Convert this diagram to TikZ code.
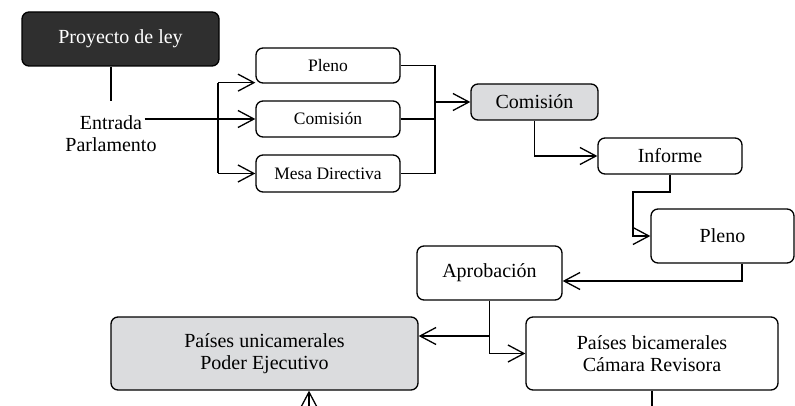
\documentclass[tikz,border=0pt]{standalone}
\usepackage{fontspec}
\setmainfont{Liberation Serif}
\usetikzlibrary{arrows.meta}
\definecolor{darkbox}{HTML}{2F2F2F}
\definecolor{graybox}{HTML}{DBDCDE}
\begin{document}
\begin{tikzpicture}[x=1pt,y=-1pt, line width=1.3pt,
  box/.style={draw, rounded corners=7pt, inner sep=0pt, align=center,
    font=\fontsize{20}{22}\selectfont},
  sbox/.style={box, font=\fontsize{17.5}{20}\selectfont,
    minimum width=144pt, minimum height=36pt},
  lbl/.style={inner sep=2pt, font=\fontsize{20}{22}\selectfont},
  arr/.style={-{Straight Barb[length=16pt,width=17pt]}},
]
\useasboundingbox (0,0) rectangle (795,406);

% nodes
\node[box, fill=darkbox, text=white, minimum width=197pt, minimum height=54pt] (proj) at (120.5,39) {Proyecto de ley};
\node[lbl, anchor=base] (ent) at (111,130) {Entrada};
\node[lbl, anchor=base] (parl) at (111,152) {Parlamento};

\node[sbox, minimum height=35pt] (pl1) at (328,65.5) {Pleno};
\node[sbox] (com1) at (328,119) {Comisión};
\node[sbox, minimum height=37pt] (mesa) at (328,173.5) {Mesa Directiva};

\node[box, fill=graybox, minimum width=127pt, minimum height=36pt] (com2) at (534.5,102) {Comisión};
\node[box, minimum width=144pt, minimum height=36pt] (info) at (670,156) {Informe};
\node[box, minimum width=143pt, minimum height=54pt] (pl2) at (722.5,236) {Pleno};
\node[box, minimum width=145pt, minimum height=54pt] (apr) at (489.5,273) {Aprobación};
\node[box, fill=graybox, minimum width=307pt, minimum height=73pt] (uni) at (264.5,353.5) {Países unicamerales\\Poder Ejecutivo};
\node[box, minimum width=252pt, minimum height=73pt] (bic) at (652,353.5) {Países bicamerales\\Cámara Revisora};

% helper coordinates
\coordinate (entTop) at (111,101);
\coordinate (j1) at (218,0);
\coordinate (j2) at (435,0);
\coordinate (p1in) at ([yshift=1pt]pl1.south west);
\coordinate (k1) at (633,192);
\coordinate (k2) at (742,281);
\coordinate (k3) at (489.5,336);
\coordinate (b1) at (309,406);
\coordinate (b2) at (652,406);

% connectors
\draw (proj.south -| entTop) -- (entTop);
\draw[arr] (ent.east |- com1.west) -- (com1.west);
\draw (j1 |- p1in) -- (j1 |- mesa.west);
\draw[arr] (j1 |- p1in) -- (p1in);
\draw[arr] (j1 |- mesa.west) -- (mesa.west);

\draw (pl1.east) -- (j2 |- pl1.east) -- (j2 |- mesa.east) -- (mesa.east);
\draw (com1.east) -- (j2 |- com1.east);
\draw[arr] (j2 |- com2.west) -- (com2.west);

\draw[arr] (com2.south) -- (com2.south |- info.west) -- (info.west);
\draw[arr] (info.south) -- (info.south |- k1) -- (k1) -- (k1 |- pl2.west) -- (pl2.west);
\draw[arr] (k2 |- pl2.south) -- (k2) -- (apr.east |- k2);
\draw[arr] (apr.south) -- (k3) -- (uni.east |- k3);
\draw[arr] (k3) -- (apr.south |- bic.west) -- (bic.west);
\draw[arr] (b1) -- (b1 |- uni.south);
\draw (bic.south) -- (b2);
\end{tikzpicture}
\end{document}
